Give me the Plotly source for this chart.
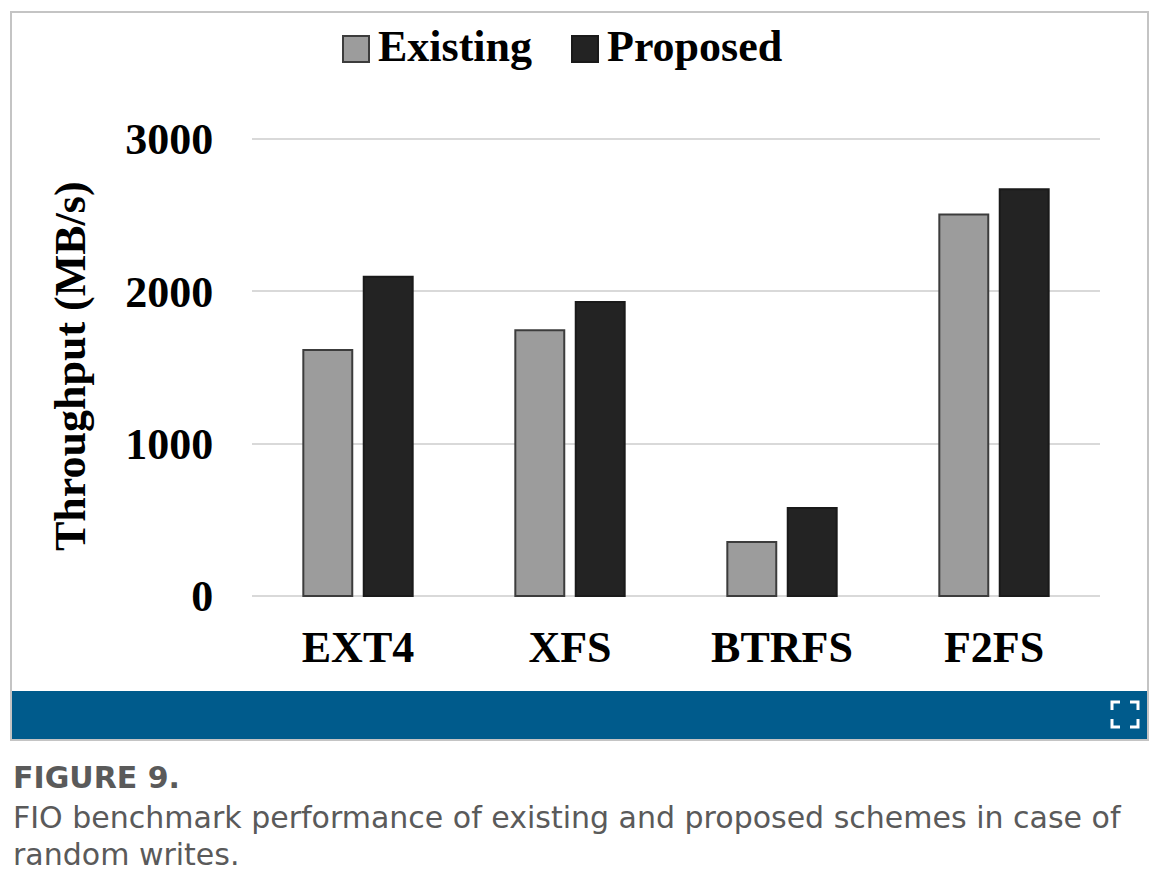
import plotly.graph_objects as go

categories = ["EXT4", "XFS", "BTRFS", "F2FS"]
existing = [1615, 1745, 355, 2505]
proposed = [2095, 1930, 578, 2670]
series_names = ["Existing", "Proposed"]
y_ticks = [0, 1000, 2000, 3000]
y_title = "Throughput (MB/s)"
fig_label = "FIGURE 9."
caption_lines = [
    "FIO benchmark performance of existing and proposed schemes in case of",
    "random writes.",
]

OFF = 8  # page body margin
W, H = 1166 - 2 * OFF, 882 - 2 * OFF
# plot area in page pixel coordinates (slightly padded so 0 and 3000 gridlines show)
PL, PR, PT, PB = 252, 1100, 137, 598
YMIN, YMAX = -13, 3013


def px(x):
    return (x - PL) / (PR - PL)


def py(y):
    return (PB - y) / (PB - PT)


SERIF = "Liberation Serif"
SANS = "DejaVu Sans"
colors = ["#9c9c9c", "#232323"]
lines = ["#3c3c3c", "#1a1a1a"]

fig = go.Figure()
for name, vals, c, lc in zip(series_names, [existing, proposed], colors, lines):
    fig.add_trace(go.Bar(
        x=categories, y=vals, name=name,
        marker=dict(color=c, line=dict(color=lc, width=2)),
        showlegend=False,
    ))

shapes = []
shapes.append(dict(type="rect", xref="paper", yref="paper",
                   x0=px(11), x1=px(1148), y0=py(740), y1=py(12),
                   line=dict(color="#c4c4c4", width=2), fillcolor="rgba(0,0,0,0)",
                   layer="below"))
shapes.append(dict(type="rect", xref="paper", yref="paper",
                   x0=px(12), x1=px(1147), y0=py(739), y1=py(691),
                   line=dict(width=0), fillcolor="#005b8c"))
x0, x1, y0, y1, a = 1112, 1138, 702, 727, 8
corners = [
    [(x0, y0 + a), (x0, y0), (x0 + a, y0)],
    [(x1 - a, y0), (x1, y0), (x1, y0 + a)],
    [(x0, y1 - a), (x0, y1), (x0 + a, y1)],
    [(x1 - a, y1), (x1, y1), (x1, y1 - a)],
]
for pts in corners:
    path = "M " + " L ".join(f"{px(p[0])},{py(p[1])}" for p in pts)
    shapes.append(dict(type="path", xref="paper", yref="paper", path=path,
                       line=dict(color="white", width=3)))
for (sx0, sx1), c, lc in zip([(343, 369), (572, 598)], colors, lines):
    shapes.append(dict(type="rect", xref="paper", yref="paper",
                       x0=px(sx0), x1=px(sx1), y0=py(62), y1=py(36),
                       fillcolor=c, line=dict(color=lc, width=2)))

annotations = []
for name, tx in zip(series_names, [376, 605]):
    annotations.append(dict(xref="paper", yref="paper", x=px(tx), y=py(47),
                            xanchor="left", yanchor="middle", showarrow=False,
                            text=name,
                            font=dict(family=SERIF, size=44, color="#000", weight="bold")))
annotations.append(dict(xref="paper", yref="paper", x=px(70), y=py(366),
                        xanchor="center", yanchor="middle", showarrow=False,
                        textangle=-90, text=y_title,
                        font=dict(family=SERIF, size=44, color="#000", weight="bold")))
annotations.append(dict(xref="paper", yref="paper", x=px(11), y=py(777),
                        xanchor="left", yanchor="middle", showarrow=False,
                        text=fig_label,
                        font=dict(family=SANS, size=30, color="#5a5a5a", weight="bold")))
for i, line in enumerate(caption_lines):
    annotations.append(dict(xref="paper", yref="paper", x=px(11), y=py(817 + 38 * i),
                            xanchor="left", yanchor="middle", showarrow=False,
                            text=line,
                            font=dict(family=SANS, size=30, color="#5a5a5a")))

fig.update_layout(
    width=W, height=H,
    margin=dict(l=PL - OFF, r=W - (PR - OFF), t=PT - OFF, b=H - (PB - OFF), pad=0),
    paper_bgcolor="white", plot_bgcolor="white",
    barmode="group", bargap=0.43, bargroupgap=0.19,
    showlegend=False,
    shapes=shapes, annotations=annotations,
    xaxis=dict(
        tickfont=dict(family=SERIF, size=44, color="#000", weight="bold"),
        ticks="outside", ticklen=10, tickcolor="rgba(0,0,0,0)",
        showgrid=False, showline=False, zeroline=False,
    ),
    yaxis=dict(
        range=[YMIN, YMAX], tickvals=y_ticks,
        tickfont=dict(family=SERIF, size=44, color="#000", weight="bold"),
        ticks="outside", ticklen=29, tickcolor="rgba(0,0,0,0)",
        showgrid=True, gridcolor="#d9d9d9", gridwidth=2,
        zeroline=False, showline=False,
    ),
)

fig.write_html("out.html")
